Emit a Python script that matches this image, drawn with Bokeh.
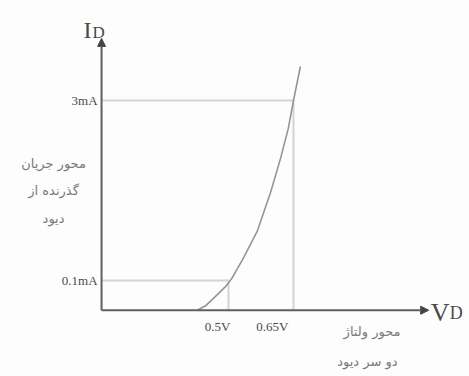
from bokeh.plotting import figure
from bokeh.models import Range1d, Arrow, NormalHead, Grid
from bokeh.core.properties import value
from bokeh.embed import file_html
from bokeh.resources import INLINE

# ---- data (voltage in V, current in mA) ----
curve_v = [0.428, 0.447, 0.470, 0.493, 0.509, 0.535, 0.567, 0.597, 0.620, 0.638, 0.650, 0.666]
curve_i = [0.057, 0.062, 0.074, 0.089, 0.106, 0.154, 0.257, 0.527, 1.00, 1.77, 3.0, 5.7]

v_marks = [0.5, 0.65]
i_marks = [0.1, 3.0]
v_labels = ["0.5V", "0.65V"]
i_labels = ["0.1mA", "3mA"]

v_origin = 0.207
i_origin = 0.057
v_axis_end = 0.962
i_axis_end = 9.7

fa_x_axis = ["محور ولتاژ", "دو سر دیود"]
fa_y_axis = ["محور جریان", "گذرنده از", "دیود"]

p = figure(width=469, height=376, output_backend="svg", toolbar_location=None,
           x_range=Range1d(-0.0262, 1.0562), y_range=Range1d(0.0163, 19.85),
           y_axis_type="log", x_axis_location=None, y_axis_location=None,
           min_border=0)
p.outline_line_color = None
p.background_fill_color = "#fdfdfd"
p.border_fill_color = "#fdfdfd"
for g in p.select({"type": Grid}):
    g.visible = False

ref_col = "#d4d4d4"
# reference lines
p.segment(x0=[v_origin] * 2, y0=i_marks, x1=v_marks, y1=i_marks,
          line_color=ref_col, line_width=2)
p.segment(x0=v_marks, y0=i_marks, x1=v_marks, y1=[i_origin] * 2,
          line_color=ref_col, line_width=2)

# curve
p.line(curve_v, curve_i, line_color="#959595", line_width=1.6)

# axes with arrows
ax_col = "#5f5f5f"
p.add_layout(Arrow(end=NormalHead(size=8, fill_color="#444", line_color="#444"),
                   x_start=v_origin, y_start=i_origin, x_end=v_axis_end, y_end=i_origin,
                   line_color=ax_col, line_width=2))
p.add_layout(Arrow(end=NormalHead(size=8, fill_color="#444", line_color="#444"),
                   x_start=v_origin, y_start=i_origin, x_end=v_origin, y_end=i_axis_end,
                   line_color=ax_col, line_width=2))

serif = value("Liberation Serif")
txt_col = "#4a4a4a"

# current tick labels
p.text(x=[v_origin] * 2, y=i_marks, text=i_labels, x_offset=-4,
       text_align="right", text_baseline="middle", text_font=serif,
       text_font_size="13px", text_color=txt_col)
# voltage tick labels
p.text(x=[v_marks[0]], y=[i_origin], text=[v_labels[0]], x_offset=2, y_offset=9,
       text_align="right", text_baseline="top", text_font=serif,
       text_font_size="13px", text_color=txt_col)
p.text(x=[v_marks[1]], y=[i_origin], text=[v_labels[1]], x_offset=-5, y_offset=9,
       text_align="right", text_baseline="top", text_font=serif,
       text_font_size="13px", text_color=txt_col)

# axis names
p.text(x=[v_origin], y=[i_axis_end], text=["I"], x_offset=-10, y_offset=-8,
       text_align="right", text_baseline="alphabetic", text_font=serif,
       text_font_size="24px", text_color=txt_col)
p.text(x=[v_origin], y=[i_axis_end], text=["D"], x_offset=-9, y_offset=-6,
       text_align="left", text_baseline="alphabetic", text_font=serif,
       text_font_size="17px", text_color=txt_col)
p.text(x=[v_axis_end], y=[i_origin], text=["V"], x_offset=2, y_offset=2,
       text_align="left", text_baseline="alphabetic", text_font=serif,
       text_font_size="26px", text_color=txt_col)
p.text(x=[v_axis_end], y=[i_origin], text=["D"], x_offset=21, y_offset=3,
       text_align="left", text_baseline="alphabetic", text_font=serif,
       text_font_size="18px", text_color=txt_col)

# Persian captions
fa_font = value("DejaVu Sans")
fa_col = "#7a7a7a"
p.text(x=[v_marks[1]] * 2, y=[i_origin] * 2, text=fa_x_axis,
       x_offset=[107, 104], y_offset=[21, 51],
       text_align="right", text_baseline="middle", text_font=fa_font,
       text_font_size="13px", text_color=fa_col)
p.text(x=[v_origin] * 3, y=[i_marks[1]] * 3, text=fa_y_axis,
       x_offset=-48, y_offset=[63, 90, 118],
       text_align="center", text_baseline="middle", text_font=fa_font,
       text_font_size="13px", text_color=fa_col)

open("out.html", "w").write(file_html(p, INLINE))
